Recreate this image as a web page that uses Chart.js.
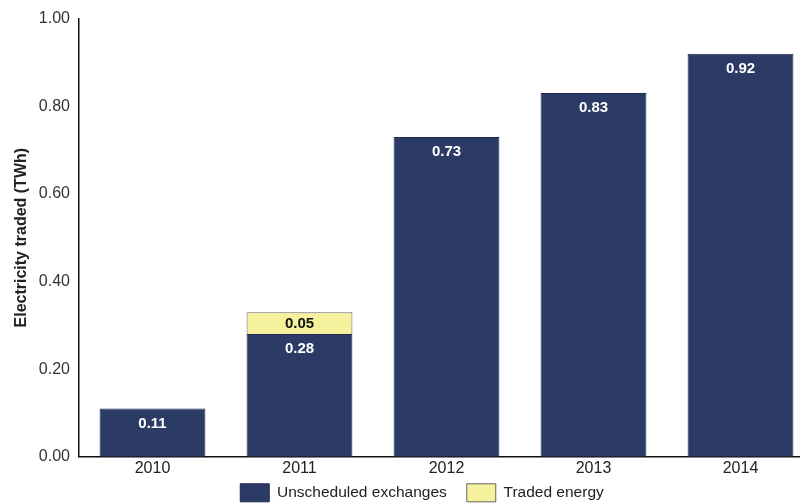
<!DOCTYPE html>
<html>
<head>
<meta charset="utf-8">
<script src="https://cdn.jsdelivr.net/npm/chart.js@4.4.1/dist/chart.umd.min.js"></script>
<style>
  html, body { margin: 0; padding: 0; background: #fff; overflow: hidden; }
  #wrap { width: 814px; height: 504px; position: relative; }
</style>
</head>
<body>
<div id="wrap"><canvas id="chart"></canvas></div>
<script>
const years = ["2010", "2011", "2012", "2013", "2014"];
const unscheduled = [0.11, 0.28, 0.73, 0.83, 0.92];
const traded = [null, 0.05, null, null, null];
const yTicks = [0, 0.2, 0.4, 0.6, 0.8, 1.0];

const navy = "#2c3a66";
const yellow = "#f6f19c";
const font = "'Liberation Sans', Arial, sans-serif";

// writes the value inside each bar segment
const barLabels = {
  id: "barLabels",
  afterDatasetsDraw(chart) {
    const ctx = chart.ctx;
    ctx.save();
    ctx.textAlign = "center";
    ctx.textBaseline = "middle";
    ctx.font = "bold 15px " + font;
    chart.data.datasets.forEach((ds, i) => {
      const meta = chart.getDatasetMeta(i);
      meta.data.forEach((bar, j) => {
        const v = ds.data[j];
        if (v == null) return;
        if (i === 0) {
          ctx.fillStyle = "#ffffff";
          ctx.fillText(v.toFixed(2), bar.x, bar.y + 15);
        } else {
          ctx.fillStyle = "#111111";
          ctx.fillText(v.toFixed(2), bar.x, (bar.y + bar.base) / 2 + 1);
        }
      });
    });
    ctx.restore();
  }
};

// put the legend row where the original has it (a bit right of centre, just under the year labels)
const legendShift = {
  id: "legendShift",
  afterLayout(chart) {
    const lg = chart.legend;
    lg.left += 30;
    lg.top = chart.chartArea.bottom + 27 - lg.options.labels.padding;
    lg.bottom = lg.top + lg.height;
  }
};

new Chart(document.getElementById("chart"), {
  type: "bar",
  data: {
    labels: years,
    datasets: [{
      label: "Unscheduled exchanges",
      data: unscheduled,
      backgroundColor: navy,
      borderColor: "#1f2a50",
      borderWidth: 1,
      barPercentage: 0.72,
      categoryPercentage: 1
    }, {
      label: "Traded energy",
      data: traded,
      backgroundColor: yellow,
      borderColor: "#666666",
      borderWidth: 1,
      barPercentage: 0.72,
      categoryPercentage: 1
    }]
  },
  options: {
    responsive: true,
    maintainAspectRatio: false,
    animation: false,
    layout: { padding: { top: 11, right: 0, bottom: -24, left: 0 } },
    plugins: {
      tooltip: { enabled: false },
      legend: {
        position: "bottom",
        labels: {
          boxWidth: 29,
          boxHeight: 18,
          padding: 20,
          color: "#222",
          font: { size: 15.5, family: font }
        }
      }
    },
    scales: {
      x: {
        stacked: true,
        grid: { display: false, drawTicks: false },
        border: { display: true, color: "#111", width: 1.5 },
        ticks: {
          color: "#222",
          padding: 2,
          font: { size: 16, family: font }
        }
      },
      y: {
        stacked: true,
        min: 0,
        max: 1,
        afterBuildTicks(scale) {
          scale.ticks = yTicks.map(v => ({ value: v }));
        },
        afterFit(scale) { scale.width = 79; },
        grid: { display: false, drawTicks: false },
        border: { display: true, color: "#111", width: 1.5 },
        title: {
          display: true,
          text: "Electricity traded (TWh)",
          color: "#222",
          padding: { top: 12, bottom: 0 },
          font: { size: 16, weight: "bold", family: font }
        },
        ticks: {
          color: "#333",
          padding: 9,
          font: { size: 16, family: font },
          callback: v => v.toFixed(2)
        }
      }
    }
  },
  plugins: [barLabels, legendShift]
});
</script>
</body>
</html>
